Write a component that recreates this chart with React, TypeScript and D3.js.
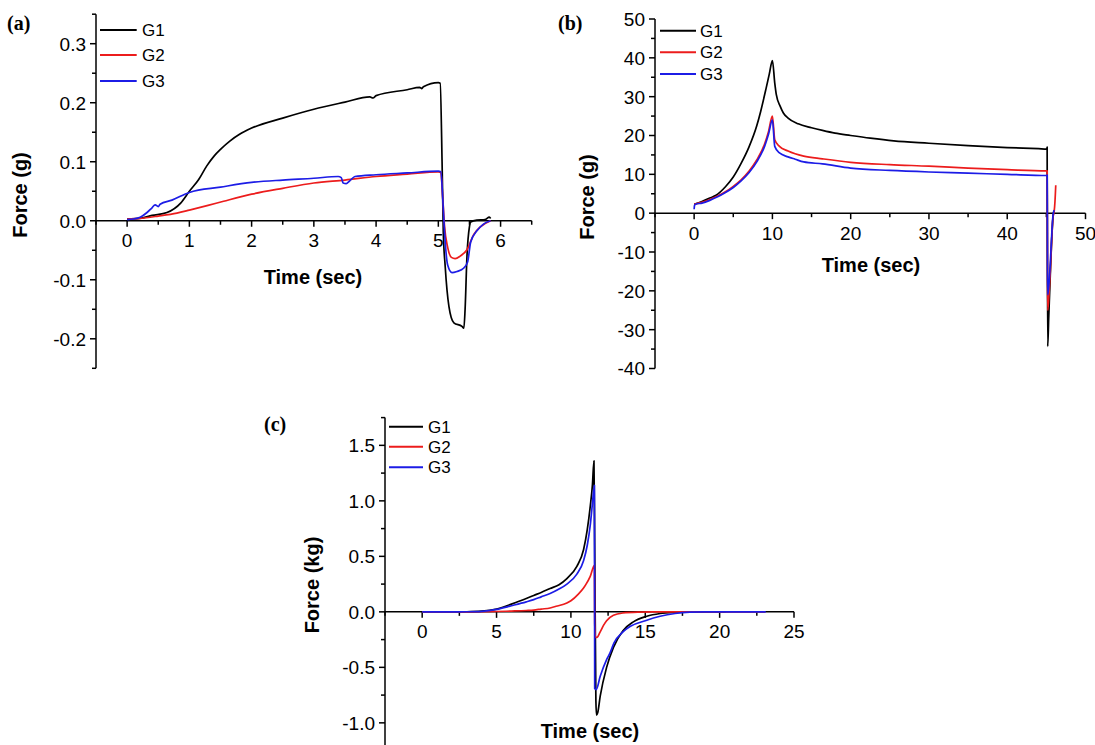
import React from 'react';
import * as d3 from 'd3';

type Pt = [number, number];

const seriesNames = ['G1', 'G2', 'G3'];
const seriesColors = ['#000000', '#ec1c1c', '#1c1ce6'];

// ---------- Panel (a): Force (g) vs Time (sec) ----------
const aG1: Pt[] = [[0,0.003],[0.2,0.004],[0.4,0.009],[0.64,0.014],[0.86,0.03],[1.0,0.05],[1.15,0.07],[1.28,0.093],[1.4,0.11],[1.5,0.121],[1.65,0.135],[1.8,0.146],[2.0,0.157],[2.5,0.174],[3.0,0.189],[3.5,0.201],[3.9,0.21],[3.95,0.208],[4.0,0.212],[4.5,0.222],[4.7,0.226],[4.73,0.224],[4.76,0.227],[5.0,0.234],[5.03,0.233],[5.06,0.1],[5.08,-0.02],[5.11,-0.077],[5.17,-0.145],[5.25,-0.173],[5.38,-0.179],[5.41,-0.182],[5.43,-0.15],[5.46,-0.06],[5.5,-0.01],[5.52,-0.002],[5.62,0.001],[5.75,0.002],[5.82,0.006],[5.84,0.004]];
const aG2: Pt[] = [[0,0.003],[0.2,0.004],[0.5,0.008],[0.8,0.013],[1.0,0.018],[1.3,0.026],[1.55,0.033],[2.0,0.045],[2.5,0.055],[3.0,0.064],[3.5,0.069],[4.0,0.075],[4.5,0.079],[5.0,0.083],[5.04,0.082],[5.07,0.04],[5.1,-0.01],[5.15,-0.045],[5.21,-0.062],[5.27,-0.064],[5.35,-0.06],[5.46,-0.049],[5.57,-0.023],[5.68,-0.01],[5.84,0.0]];
const aG3: Pt[] = [[0,0.002],[0.1,0.003],[0.21,0.006],[0.32,0.014],[0.4,0.022],[0.45,0.027],[0.5,0.024],[0.53,0.028],[0.72,0.035],[1.0,0.048],[1.5,0.057],[2.0,0.065],[2.5,0.069],[3.0,0.072],[3.39,0.075],[3.44,0.073],[3.47,0.064],[3.52,0.063],[3.57,0.067],[3.66,0.075],[4.0,0.078],[4.5,0.081],[5.0,0.084],[5.04,0.083],[5.07,0.04],[5.1,-0.02],[5.15,-0.075],[5.22,-0.088],[5.3,-0.086],[5.41,-0.08],[5.47,-0.07],[5.52,-0.036],[5.62,-0.017],[5.72,-0.006],[5.84,0.0]];
const aXTicks = [0, 1, 2, 3, 4, 5, 6];
const aXTickLabels = ['0', '1', '2', '3', '4', '5', '6'];
const aYTicks = [-0.2, -0.1, 0, 0.1, 0.2, 0.3];
const aYTickLabels = ['-0.2', '-0.1', '0.0', '0.1', '0.2', '0.3'];

// ---------- Panel (b): Force (g) vs Time (sec) ----------
const bG1: Pt[] = [[0,2.3],[1,3.0],[2,3.9],[2.8,4.6],[4,6.8],[5,9.3],[6,12.8],[7,17.0],[8,22.5],[8.5,26.2],[9.2,32.2],[9.6,35.8],[10,39.3],[10.3,33.5],[10.5,30.5],[11,27.5],[11.4,25.8],[12,24.5],[13.3,23.0],[15,22.0],[16.4,21.3],[18,20.6],[20,20.0],[22.5,19.3],[25.5,18.6],[30,18.0],[35,17.4],[40,16.9],[44,16.6],[45.05,16.5],[45.1,17.0],[45.12,-5],[45.17,-34.3],[45.3,-27],[45.5,-16],[45.7,-6],[45.85,-1],[45.95,0.4]];
const bG2: Pt[] = [[0,2.3],[1,2.8],[2,3.5],[3,4.4],[4,5.5],[5,6.9],[6,8.6],[7,10.8],[8,13.7],[9,17.8],[9.5,21.0],[10,25.0],[10.3,18.9],[10.9,17.2],[12,16.0],[12.9,15.3],[14,14.7],[16.4,14.0],[20,13.1],[25,12.5],[30,12.1],[35,11.6],[40,11.2],[45.05,10.9],[45.1,10.9],[45.14,-10],[45.17,-25],[45.3,-22],[45.5,-15],[45.7,-6],[45.85,-1],[46.0,0.5],[46.1,3],[46.2,7.2]];
const bG3: Pt[] = [[0,1.0],[0.05,2.0],[0.2,2.3],[1,2.6],[2,3.3],[3,4.2],[4,5.3],[5,6.6],[6,8.3],[7,10.4],[8,13.2],[9,17.2],[9.5,20.3],[10,24.0],[10.3,17.2],[10.9,15.5],[12,14.5],[12.9,13.9],[14,13.2],[16.4,12.7],[20,11.6],[25,11.0],[30,10.6],[35,10.3],[40,10.0],[45.05,9.7],[45.1,9.8],[45.14,-10],[45.17,-21],[45.3,-19],[45.5,-13],[45.7,-5],[45.85,-0.5],[46.0,0.8]];
const bXTicks = [0, 10, 20, 30, 40, 50];
const bXTickLabels = ['0', '10', '20', '30', '40', '50'];
const bYTicks = [-40, -30, -20, -10, 0, 10, 20, 30, 40, 50];
const bYTickLabels = ['-40', '-30', '-20', '-10', '0', '10', '20', '30', '40', '50'];

// ---------- Panel (c): Force (kg) vs Time (sec) ----------
const cG1: Pt[] = [[0,0],[2,0],[3,0.001],[4,0.006],[5,0.025],[6,0.07],[7,0.12],[7.5,0.148],[8,0.175],[8.6,0.21],[9.2,0.245],[9.73,0.3],[10.4,0.41],[10.85,0.56],[11.1,0.74],[11.3,0.95],[11.45,1.15],[11.55,1.36],[11.6,0.6],[11.68,-0.8],[11.72,-0.93],[11.8,-0.91],[11.97,-0.76],[12.4,-0.5],[12.86,-0.32],[13.5,-0.17],[14.2,-0.09],[15.1,-0.04],[16,-0.015],[17,-0.004],[18,0],[20.4,0]];
const cG2: Pt[] = [[0,0],[3,0],[5,0.003],[6,0.007],[7,0.012],[7.5,0.016],[8,0.025],[8.6,0.035],[9,0.05],[9.73,0.08],[10,0.1],[10.5,0.16],[10.85,0.215],[11,0.245],[11.3,0.32],[11.58,0.42],[11.6,-0.1],[11.65,-0.23],[11.75,-0.23],[11.97,-0.18],[12.2,-0.12],[12.4,-0.08],[12.86,-0.03],[13.5,-0.01],[14.5,-0.002],[15.5,0],[23.05,0]];
const cG3: Pt[] = [[0,0],[2,0],[3,0.001],[4,0.005],[5,0.022],[6,0.055],[7,0.09],[7.5,0.11],[8,0.135],[8.6,0.165],[9.2,0.205],[9.73,0.25],[10.4,0.34],[10.85,0.46],[11.1,0.6],[11.3,0.78],[11.45,0.98],[11.58,1.14],[11.6,-0.69],[11.7,-0.7],[11.97,-0.58],[12.4,-0.43],[12.63,-0.37],[12.9,-0.28],[13.5,-0.18],[14,-0.13],[15,-0.08],[16,-0.04],[17,-0.015],[18,-0.003],[19,0],[23.1,0]];
const cXTicks = [0, 5, 10, 15, 20, 25];
const cXTickLabels = ['0', '5', '10', '15', '20', '25'];
const cYTicks = [-1.0, -0.5, 0, 0.5, 1.0, 1.5];
const cYTickLabels = ['-1.0', '-0.5', '0.0', '0.5', '1.0', '1.5'];

interface PanelCfg {
  tag: string;
  tagPos: [number, number];
  xDomain: [number, number];
  xRange: [number, number];
  yDomain: [number, number];
  yRange: [number, number];
  xTicks: number[];
  xTickLabels: string[];
  xMinorStep: number;
  yTicks: number[];
  yTickLabels: string[];
  yMinorStep: number;
  series: Pt[][];
  yTitle: string;
  yTitlePos: [number, number];
  xTitlePos: [number, number];
  legendX: [number, number, number];
  legendY: number[];
}

const SANS = '"Liberation Sans", Arial, Helvetica, sans-serif';
const SERIF = '"Liberation Serif", "Times New Roman", serif';
const TICK_FS = 19;

function Panel({ c }: { c: PanelCfg }) {
  const x = d3.scaleLinear().domain(c.xDomain).range(c.xRange);
  const y = d3.scaleLinear().domain(c.yDomain).range(c.yRange);
  const line = d3.line<Pt>().x((d) => x(d[0])).y((d) => y(d[1])).curve(d3.curveMonotoneX);
  const y0 = y(0);
  const ax = c.xRange[0];
  const eps = 1e-9;
  const xMinor = d3.range(c.xDomain[0], c.xDomain[1] + eps, c.xMinorStep).filter((v) => !c.xTicks.some((t) => Math.abs(t - v) < 1e-6));
  const yMinor = d3.range(c.yDomain[0], c.yDomain[1] + eps, c.yMinorStep).filter((v) => !c.yTicks.some((t) => Math.abs(t - v) < 1e-6));
  return (
    <g>
      <line x1={ax} x2={c.xRange[1]} y1={y0} y2={y0} stroke="#000" strokeWidth={1.5} />
      <line x1={ax} x2={ax} y1={c.yRange[0]} y2={c.yRange[1]} stroke="#000" strokeWidth={1.5} />
      {c.xTicks.map((t, i) => (
        <g key={'xt' + i}>
          <line x1={x(t)} x2={x(t)} y1={y0} y2={y0 + 6} stroke="#000" strokeWidth={1.5} />
          <text x={x(t)} y={y0 + 26.5} textAnchor="middle" fontFamily={SANS} fontSize={TICK_FS} fill="#000">{c.xTickLabels[i]}</text>
        </g>
      ))}
      {xMinor.map((t, i) => (
        <line key={'xm' + i} x1={x(t)} x2={x(t)} y1={y0} y2={y0 + 4} stroke="#000" strokeWidth={1.5} />
      ))}
      {c.yTicks.map((t, i) => (
        <g key={'yt' + i}>
          <line x1={ax - 6} x2={ax} y1={y(t)} y2={y(t)} stroke="#000" strokeWidth={1.5} />
          <text x={ax - 10} y={y(t)} dy="0.36em" textAnchor="end" fontFamily={SANS} fontSize={TICK_FS} fill="#000">{c.yTickLabels[i]}</text>
        </g>
      ))}
      {yMinor.map((t, i) => (
        <line key={'ym' + i} x1={ax - 4} x2={ax} y1={y(t)} y2={y(t)} stroke="#000" strokeWidth={1.5} />
      ))}
      {c.series.map((s, i) => (
        <path key={'s' + i} d={line(s) || ''} fill="none" stroke={seriesColors[i]} strokeWidth={1.7} strokeLinejoin="round" />
      ))}
      {seriesNames.map((n, i) => (
        <g key={'lg' + i}>
          <line x1={c.legendX[0]} x2={c.legendX[1]} y1={c.legendY[i]} y2={c.legendY[i]} stroke={seriesColors[i]} strokeWidth={2} />
          <text x={c.legendX[2]} y={c.legendY[i]} dy="0.36em" fontFamily={SANS} fontSize={17} fill="#000">{n}</text>
        </g>
      ))}
      <text x={c.tagPos[0]} y={c.tagPos[1]} fontFamily={SERIF} fontWeight="bold" fontSize={20} fill="#000">{c.tag}</text>
      <text transform={`translate(${c.yTitlePos[0]},${c.yTitlePos[1]}) rotate(-90)`} textAnchor="middle" dy="0.36em" fontFamily={SANS} fontWeight="bold" fontSize={20} fill="#000">{c.yTitle}</text>
      <text x={c.xTitlePos[0]} y={c.xTitlePos[1]} textAnchor="middle" dy="0.36em" fontFamily={SANS} fontWeight="bold" fontSize={20} fill="#000">Time (sec)</text>
    </g>
  );
}

const panels: PanelCfg[] = [
  {
    tag: '(a)', tagPos: [7, 30],
    xDomain: [-0.5, 6.5], xRange: [96, 531.7],
    yDomain: [-0.25, 0.35], yRange: [368.3, 14.2],
    xTicks: aXTicks, xTickLabels: aXTickLabels, xMinorStep: 0.5,
    yTicks: aYTicks, yTickLabels: aYTickLabels, yMinorStep: 0.05,
    series: [aG1, aG2, aG3],
    yTitle: 'Force (g)', yTitlePos: [20, 195], xTitlePos: [313, 277],
    legendX: [100, 136.7, 142], legendY: [30, 55, 81],
  },
  {
    tag: '(b)', tagPos: [558, 30],
    xDomain: [-5, 50], xRange: [655, 1085.5],
    yDomain: [-40, 50], yRange: [368.5, 19],
    xTicks: bXTicks, xTickLabels: bXTickLabels, xMinorStep: 5,
    yTicks: bYTicks, yTickLabels: bYTickLabels, yMinorStep: 5,
    series: [bG1, bG2, bG3],
    yTitle: 'Force (g)', yTitlePos: [587, 197], xTitlePos: [871, 265],
    legendX: [660, 696, 700], legendY: [30.7, 52.3, 74],
  },
  {
    tag: '(c)', tagPos: [264, 431],
    xDomain: [-2.5, 25], xRange: [385, 794],
    yDomain: [-1.25, 1.75], yRange: [750.6, 417.6],
    xTicks: cXTicks, xTickLabels: cXTickLabels, xMinorStep: 2.5,
    yTicks: cYTicks, yTickLabels: cYTickLabels, yMinorStep: 0.25,
    series: [cG1, cG2, cG3],
    yTitle: 'Force (kg)', yTitlePos: [312, 585], xTitlePos: [590, 731],
    legendX: [389, 423, 428], legendY: [426.7, 446.7, 467.3],
  },
];

export default function App() {
  return (
    <svg width={1095} height={745} viewBox="0 0 1095 745" style={{ position: 'absolute', left: 0, top: 0, background: '#fff', overflow: 'hidden' }}>
      <rect x={0} y={0} width={1095} height={745} fill="#fff" />
      {panels.map((p, i) => <Panel key={i} c={p} />)}
    </svg>
  );
}
